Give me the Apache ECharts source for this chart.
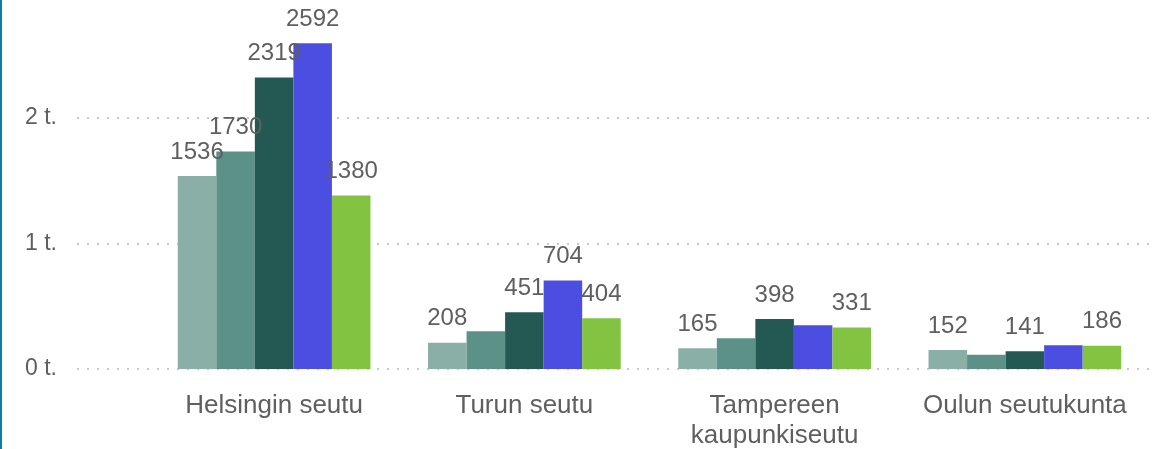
<!DOCTYPE html>
<html>
<head>
<meta charset="utf-8">
<script src="https://cdn.jsdelivr.net/npm/echarts@6/dist/echarts.min.js"></script>
<style>
  html, body { margin: 0; padding: 0; background: #fff; }
  #chart { width: 1161px; height: 449px; box-sizing: border-box; border-left: 2px solid #0a7fa0; }
</style>
</head>
<body>
<div id="chart"></div>
<script>
  // --- Data ---
  var categories = ['Helsingin seutu', 'Turun seutu', 'Tampereen\nkaupunkiseutu', 'Oulun seutukunta'];
  var series1 = [1536, 208, 165, 152];
  var series2 = [1730, 300, 245, 113];
  var series3 = [2319, 451, 398, 141];
  var series4 = [2592, 704, 348, 188];
  var series5 = [1380, 404, 331, 186];
  var yTicks = [0, 1000, 2000, 3000];
  // which categories get a visible value label, per series
  var labelShown = [[0, 1, 2, 3], [0], [0, 1, 2, 3], [0, 1], [0, 1, 2, 3]];

  var colors = ['#8aafa7', '#5c9188', '#245852', '#4b4ee0', '#82c341'];
  var textColor = '#5f5f5f';
  var font = 'Liberation Sans, Arial, sans-serif';

  function makeSeries(values, idx) {
    return {
      type: 'bar',
      xAxisIndex: 1,
      yAxisIndex: 1,
      barGap: '0%',
      barCategoryGap: '23%',
      itemStyle: { color: colors[idx] },
      data: values.map(function (v, i) {
        return {
          value: v,
          label: { show: labelShown[idx].indexOf(i) !== -1 }
        };
      }),
      label: {
        position: 'top',
        distance: 12,
        color: textColor,
        fontFamily: font,
        fontSize: 24
      },
      emphasis: { disabled: true },
      animation: false
    };
  }

  var chart = echarts.init(document.getElementById('chart'), null, { renderer: 'canvas' });

  var option = {
    animation: false,
    grid: [
      { left: 75, right: 11, top: -8, bottom: 80, containLabel: false, outerBoundsMode: 'none' },
      { left: 147, right: 11, top: -8, bottom: 80, containLabel: false, outerBoundsMode: 'none' }
    ],
    xAxis: [
      { type: 'value', gridIndex: 0, show: false, min: 0, max: 1 },
      {
        type: 'category',
        gridIndex: 1,
        data: categories,
        axisLine: { show: false },
        axisTick: { show: false },
        axisLabel: {
          color: textColor,
          fontFamily: font,
          fontSize: 26,
          lineHeight: 30,
          margin: 22,
          interval: 0
        }
      }
    ],
    yAxis: [
      {
        type: 'value',
        gridIndex: 0,
        min: yTicks[0],
        max: yTicks[yTicks.length - 1],
        interval: 1000,
        axisLine: { show: false },
        axisTick: { show: false },
        axisLabel: {
          color: textColor,
          fontFamily: font,
          fontSize: 23,
          margin: 20,
          formatter: function (v) { return (v / 1000) + ' t.'; }
        },
        splitLine: {
          lineStyle: { color: '#c8c8c8', width: 2, type: [2, 8] }
        }
      },
      {
        type: 'value',
        gridIndex: 1,
        min: yTicks[0],
        max: yTicks[yTicks.length - 1],
        show: false,
        splitLine: { show: false }
      }
    ],
    series: [series1, series2, series3, series4, series5].map(makeSeries)
  };

  chart.setOption(option);
</script>
</body>
</html>
